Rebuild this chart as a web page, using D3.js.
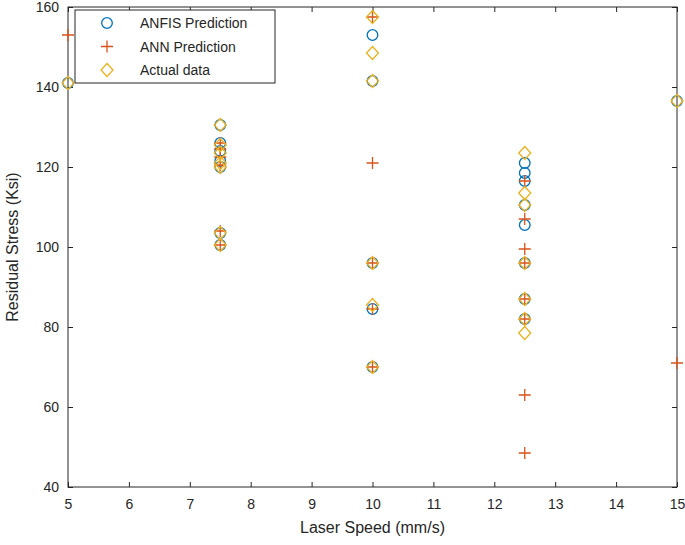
<!DOCTYPE html>
<html>
<head>
<meta charset="utf-8">
<script src="https://cdn.jsdelivr.net/npm/d3@7"></script>
<style>
  body { margin: 0; background: #fff; }
  text { font-family: "Liberation Sans", Arial, sans-serif; fill: #262626; }
</style>
</head>
<body>
<div class="chart"></div>
<script>
// Data
var anfisX = [5, 7.5, 7.5, 7.5, 7.5, 7.5, 7.5, 7.5, 10, 10, 10, 10, 10,
  12.5, 12.5, 12.5, 12.5, 12.5, 12.5, 12.5, 12.5, 15];
var anfisY = [141, 130.5, 126, 124, 121.5, 120, 103.5, 100.5, 153, 141.5, 96, 84.5, 70,
  121, 118.5, 116.5, 110.5, 105.5, 96, 87, 82, 136.5];

var annX = [5, 7.5, 7.5, 7.5, 7.5, 7.5, 7.5, 10, 10, 10, 10, 10,
  12.5, 12.5, 12.5, 12.5, 12.5, 12.5, 12.5, 12.5, 15];
var annY = [153, 126, 124.5, 122.5, 120.5, 104, 100.5, 157.5, 121, 96, 84.5, 70,
  116.5, 107, 99.5, 96, 87, 82, 63, 48.5, 71];

var actualX = [5, 7.5, 7.5, 7.5, 7.5, 7.5, 7.5, 7.5, 10, 10, 10, 10, 10, 10,
  12.5, 12.5, 12.5, 12.5, 12.5, 12.5, 12.5, 15];
var actualY = [141, 130.5, 125.5, 123.5, 121, 120, 103.5, 100.5, 157.5, 148.5, 141.5, 96, 85.5, 70,
  123.5, 113.5, 110.5, 96, 87, 82, 78.5, 136.5];

var xTicks = [5, 6, 7, 8, 9, 10, 11, 12, 13, 14, 15];
var yTicks = [40, 60, 80, 100, 120, 140, 160];
var seriesNames = ["ANFIS Prediction", "ANN Prediction", "Actual data"];

// SVG area
var svgWidth = 685;
var svgHeight = 545;
var margin = {top: 7, right: 8, bottom: 58, left: 68};
var width = svgWidth - margin.left - margin.right;
var height = svgHeight - margin.top - margin.bottom;

var svg = d3.select(".chart")
  .append("svg")
  .attr("width", svgWidth)
  .attr("height", svgHeight);

var chart = svg.append("g")
  .attr("transform", "translate(" + margin.left + "," + margin.top + ")");

var x = d3.scaleLinear().domain([5, 15]).range([0, width]);
var y = d3.scaleLinear().domain([40, 160]).range([height, 0]);

var axisColor = "#262626";
var tickLen = 5;

// Axes (MATLAB style, ticks inside, box on)
function styleAxis(g, hideText) {
  g.select(".domain").remove();
  g.selectAll(".tick line").attr("stroke", axisColor);
  g.selectAll(".tick text").style("font-size", "14px").attr("fill", axisColor);
  if (hideText) g.selectAll(".tick text").remove();
}

chart.append("g")
  .attr("transform", "translate(0," + height + ")")
  .call(d3.axisBottom(x).tickValues(xTicks).tickSize(-tickLen).tickPadding(12).tickFormat(d3.format("d")))
  .call(function(g) { styleAxis(g, false); });

chart.append("g")
  .call(d3.axisTop(x).tickValues(xTicks).tickSize(-tickLen))
  .call(function(g) { styleAxis(g, true); });

chart.append("g")
  .call(d3.axisLeft(y).tickValues(yTicks).tickSize(-tickLen).tickPadding(9))
  .call(function(g) { styleAxis(g, false); });

chart.append("g")
  .attr("transform", "translate(" + width + ",0)")
  .call(d3.axisRight(y).tickValues(yTicks).tickSize(-tickLen))
  .call(function(g) { styleAxis(g, true); });

chart.append("rect")
  .attr("width", width)
  .attr("height", height)
  .attr("fill", "none")
  .attr("stroke", axisColor)
  .attr("stroke-width", 1);

// Markers
var colors = ["#0072BD", "#D95319", "#EDB120"];
var circleSym = d3.symbol().type(d3.symbolCircle).size(Math.PI * 5.3 * 5.3);
var plusPath = "M-6,0H6M0,-6V6";
var diamondPath = "M0,-6.5L6,0L0,6.5L-6,0Z";

function zip(xs, ys) {
  return xs.map(function(v, i) { return {x: v, y: ys[i]}; });
}

chart.append("g").selectAll("path")
  .data(zip(anfisX, anfisY))
  .enter().append("path")
  .attr("d", circleSym)
  .attr("transform", function(d) { return "translate(" + x(d.x) + "," + y(d.y) + ")"; })
  .attr("fill", "none")
  .attr("stroke", colors[0])
  .attr("stroke-width", 1.3);

chart.append("g").selectAll("path")
  .data(zip(annX, annY))
  .enter().append("path")
  .attr("d", plusPath)
  .attr("transform", function(d) { return "translate(" + x(d.x) + "," + y(d.y) + ")"; })
  .attr("fill", "none")
  .attr("stroke", colors[1])
  .attr("stroke-width", 1.3);

chart.append("g").selectAll("path")
  .data(zip(actualX, actualY))
  .enter().append("path")
  .attr("d", diamondPath)
  .attr("transform", function(d) { return "translate(" + x(d.x) + "," + y(d.y) + ")"; })
  .attr("fill", "none")
  .attr("stroke", colors[2])
  .attr("stroke-width", 1.3);

// Axis labels
svg.append("text")
  .attr("x", margin.left + width / 2)
  .attr("y", 533)
  .attr("text-anchor", "middle")
  .style("font-size", "16px")
  .text("Laser Speed (mm/s)");

svg.append("text")
  .attr("transform", "translate(18," + (margin.top + height / 2) + ") rotate(-90)")
  .attr("text-anchor", "middle")
  .style("font-size", "16px")
  .text("Residual Stress (Ksi)");

// Legend
var legend = svg.append("g").attr("transform", "translate(75,10)");
legend.append("rect")
  .attr("width", 200)
  .attr("height", 73)
  .attr("fill", "#fff")
  .attr("stroke", axisColor)
  .attr("stroke-width", 1);

var symbols = [circleSym(), plusPath, diamondPath];
seriesNames.forEach(function(name, i) {
  var row = legend.append("g").attr("transform", "translate(0," + (13 + i * 23.5) + ")");
  row.append("path")
    .attr("d", symbols[i])
    .attr("transform", "translate(32,0)")
    .attr("fill", "none")
    .attr("stroke", colors[i])
    .attr("stroke-width", 1.3);
  row.append("text")
    .attr("x", 65)
    .attr("y", 5)
    .style("font-size", "14px")
    .text(name);
});
</script>
</body>
</html>
